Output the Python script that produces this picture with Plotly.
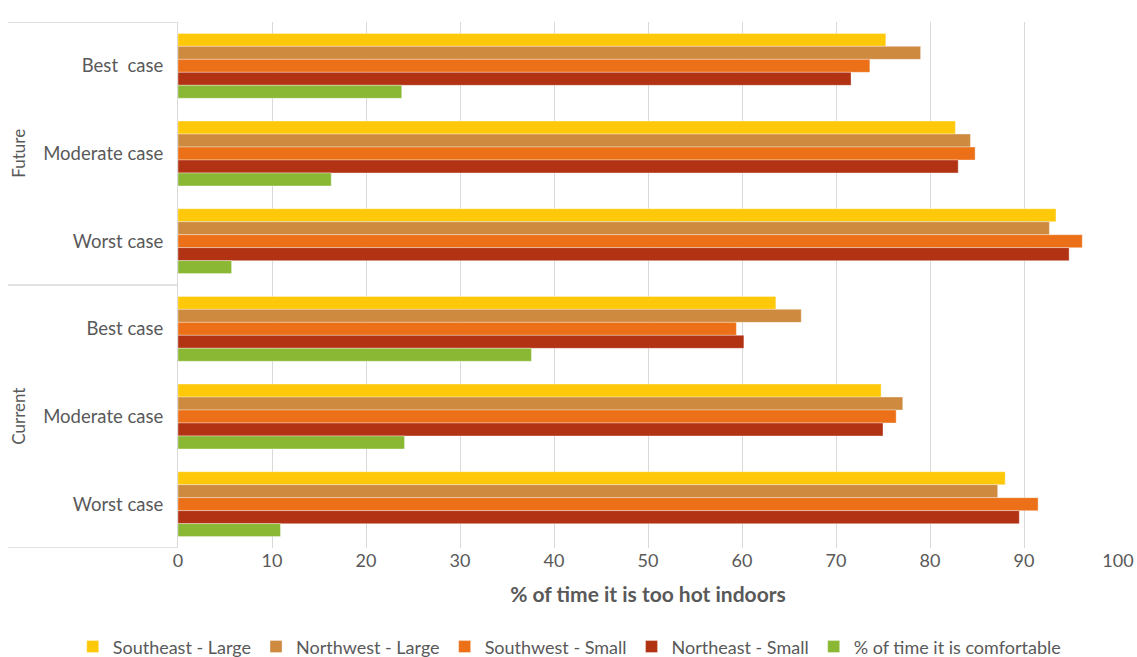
import plotly.graph_objects as go

groups = ["Future", "Future", "Future", "Current", "Current", "Current"]
cases = ["Best  case", "Moderate case", "Worst case", "Best case", "Moderate case", "Worst case"]

series_names = ["Southeast - Large", "Northwest - Large", "Southwest - Small",
                "Northeast - Small", "% of time it is comfortable"]
southeast_large = [75.3, 82.7, 93.4, 63.6, 74.8, 88.0]
northwest_large = [79.0, 84.3, 92.7, 66.3, 77.1, 87.2]
southwest_small = [73.6, 84.8, 96.2, 59.4, 76.4, 91.5]
northeast_small = [71.6, 83.0, 94.8, 60.2, 75.0, 89.5]
comfortable = [23.8, 16.3, 5.7, 37.6, 24.1, 10.9]

x_ticks = [0, 10, 20, 30, 40, 50, 60, 70, 80, 90, 100]
x_title = "% of time it is too hot indoors"

colors = ["#FFC90A", "#CE8A3E", "#EC7017", "#B23214", "#8AB834"]
values = [southeast_large, northwest_large, southwest_small, northeast_small, comfortable]

ypos = list(range(len(cases)))
fig = go.Figure()
for name, vals, col in zip(series_names, values, colors):
    fig.add_trace(go.Bar(
        y=ypos, x=vals, name=name, orientation="h",
        marker=dict(color=col, line=dict(color="rgba(255,255,255,0.35)", width=1)),
    ))

FONT = "Lato, 'Open Sans', sans-serif"
GREY = "#595959"
fig.update_layout(
    width=1137, height=657,
    margin=dict(l=178, r=19, t=22, b=109, autoexpand=False),
    barmode="group", bargap=0.26, bargroupgap=0,
    plot_bgcolor="white", paper_bgcolor="white",
    font=dict(family=FONT, size=18, color=GREY),
    xaxis=dict(
        range=[0, 100], tickvals=x_ticks, showgrid=True, gridcolor="#D9D9D9",
        gridwidth=1, zeroline=False, showline=False, automargin=False,
        tickfont=dict(size=18, color=GREY),
        title=dict(text="<b>" + x_title + "</b>", font=dict(size=21, color=GREY), standoff=17),
    ),
    yaxis=dict(
        range=[len(cases) - 0.5, -0.5], tickvals=ypos, ticktext=cases,
        showgrid=False, zeroline=False, showline=True, linecolor="#D9D9D9",
        automargin=False,
        tickfont=dict(size=18.5, color=GREY), ticklabelstandoff=10,
    ),
    legend=dict(
        orientation="h", xref="paper", yref="paper",
        x=-0.112, xanchor="left", y=-0.188, yanchor="middle",
        font=dict(size=18, color=GREY), itemwidth=30, traceorder="normal",
        tracegroupgap=0,
    ),
    showlegend=True,
)

# group separators and labels
unique_groups = []
for g in groups:
    if g not in unique_groups:
        unique_groups.append(g)
bounds = [-0.5]
for g in unique_groups:
    idx = [i for i, gg in enumerate(groups) if gg == g]
    bounds.append(max(idx) + 0.5)
    fig.add_annotation(
        x=-0.170, xref="paper", y=(min(idx) + max(idx)) / 2, yref="y",
        text=g, textangle=-90, showarrow=False,
        font=dict(size=17, color=GREY), xanchor="center", yanchor="middle",
    )
for b in bounds:
    fig.add_shape(type="line", xref="paper", yref="y", x0=-0.181, x1=0, y0=b, y1=b,
                  line=dict(color="#D9D9D9", width=1.5))

fig.write_html("out.html")
